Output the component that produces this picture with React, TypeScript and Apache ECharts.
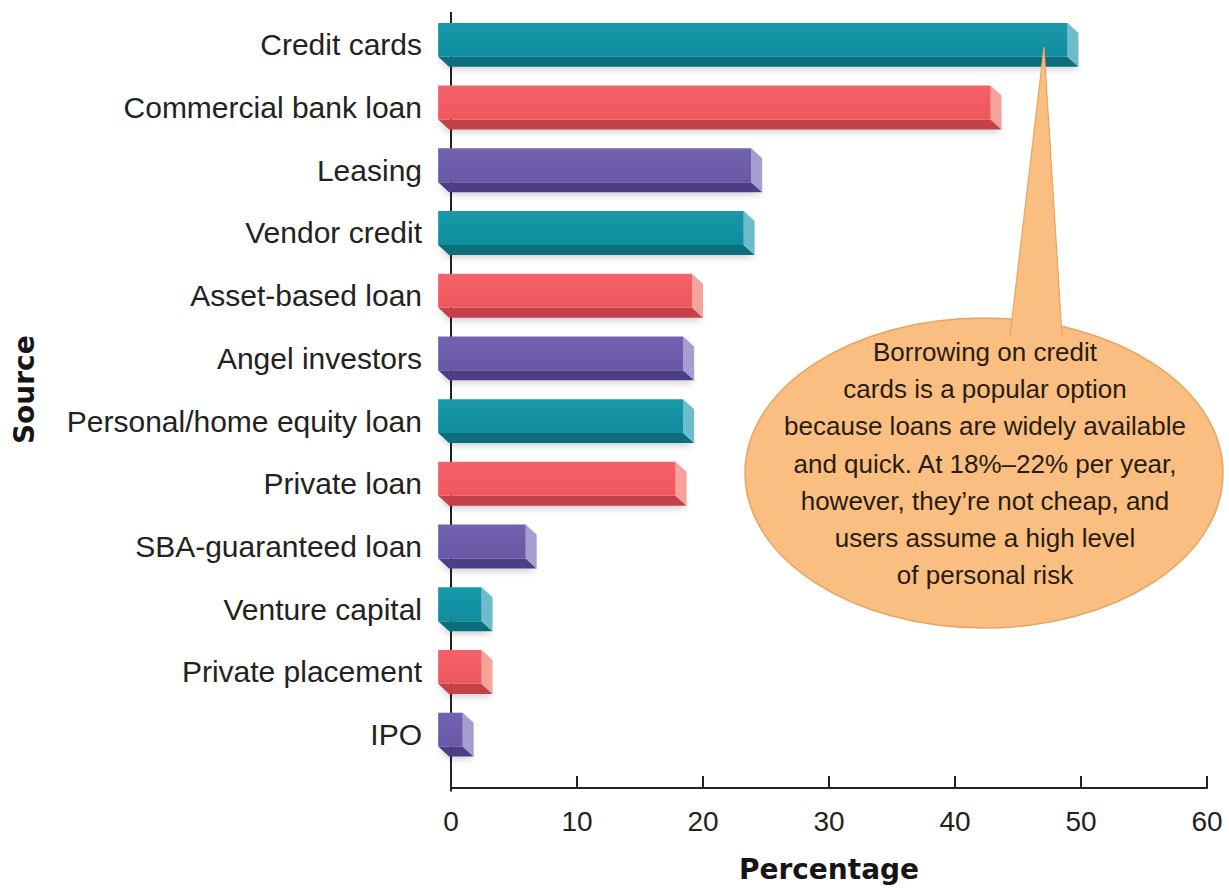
import React, { useEffect, useRef } from "react";
import * as echarts from "echarts";

const categories = [
  "Credit cards",
  "Commercial bank loan",
  "Leasing",
  "Vendor credit",
  "Asset-based loan",
  "Angel investors",
  "Personal/home equity loan",
  "Private loan",
  "SBA-guaranteed loan",
  "Venture capital",
  "Private placement",
  "IPO",
];

const values = [49.8, 43.7, 24.7, 24.1, 20.0, 19.3, 19.3, 18.7, 6.8, 3.3, 3.3, 1.8];

const xMin = 0;
const xMax = 60;
const xInterval = 10;

const calloutLines = [
  "Borrowing on credit",
  "cards is a popular option",
  "because loans are widely available",
  "and quick. At 18%\u201322% per year,",
  "however, they\u2019re not cheap, and",
  "users assume a high level",
  "of personal risk",
];

const palettes = [
  { top: "#1899aa", front: "#0f8c9d", bottom: "#0b6d7d", side: "#6cbccb" },
  { top: "#f4626a", front: "#ee575c", bottom: "#c63f48", side: "#f6a39c" },
  { top: "#7262b0", front: "#6858a6", bottom: "#4d3e86", side: "#a79dd0" },
];

const SANS = "'Liberation Sans', Arial, Helvetica, sans-serif";

export default function App() {
  const ref = useRef<HTMLDivElement>(null);

  useEffect(() => {
    const chart = echarts.init(ref.current as HTMLDivElement, null, { renderer: "svg" });
    const gridTop = 13.5;
    const gridHeight = 756;
    const gridLeft = 451;
    const gridWidth = 756;
    const xOffset = 22;

    chart.setOption({
      animation: false,
      backgroundColor: "#ffffff",
      grid: { left: gridLeft, top: gridTop, width: gridWidth, height: gridHeight, containLabel: false },
      xAxis: {
        type: "value",
        min: xMin,
        max: xMax,
        interval: xInterval,
        offset: xOffset,
        name: "Percentage",
        nameLocation: "middle",
        nameGap: 67,
        nameTextStyle: { fontFamily: "DejaVu Sans", fontWeight: "bold", fontSize: 28, color: "#151515" },
        axisLine: { show: true, lineStyle: { color: "#222", width: 2 } },
        axisTick: { show: true, inside: true, length: 12, lineStyle: { color: "#222", width: 2 } },
        axisLabel: { fontFamily: SANS, fontSize: 28, color: "#222", margin: 19 },
        splitLine: { show: false },
      },
      yAxis: {
        type: "category",
        data: categories,
        inverse: true,
        name: "Source",
        nameLocation: "middle",
        nameRotate: 90,
        nameGap: 413,
        nameTextStyle: { fontFamily: "DejaVu Sans", fontWeight: "bold", fontSize: 28, color: "#151515" },
        axisLine: { show: false },
        axisTick: { show: false },
        axisLabel: { fontFamily: SANS, fontSize: 30, color: "#222", margin: 29 },
      },
      series: [
        {
          type: "custom",
          z: 2,
          encode: { x: 0, y: 1 },
          data: values.map((v, i) => [v, i]),
          renderItem: (params: any, api: any) => {
            const cat = api.value(1);
            const v = api.value(0);
            const p0 = api.coord([0, cat]);
            const p1 = api.coord([v, cat]);
            const band = api.size([0, 1])[1];
            const yc = p0[1];
            const dx = band * 0.175;
            const dy = band * 0.16;
            const ft = yc - band * 0.35;
            const fb = yc + band * 0.19;
            const X0 = p0[0] - band * 0.03;
            const X1 = p1[0];
            const pal = palettes[params.dataIndex % 3];
            return {
              type: "group",
              children: [
                {
                  type: "polygon",
                  shape: { points: [[X0 - dx, fb], [X1 - dx, fb], [X1, fb + dy], [X0, fb + dy]] },
                  style: {
                    fill: pal.bottom,
                    shadowBlur: 6,
                    shadowOffsetY: 3,
                    shadowColor: "rgba(0,0,0,0.18)",
                  },
                },
                {
                  type: "polygon",
                  shape: { points: [[X1 - dx, ft], [X1, ft + dy], [X1, fb + dy], [X1 - dx, fb]] },
                  style: { fill: pal.side },
                },
                {
                  type: "rect",
                  shape: { x: X0 - dx, y: ft, width: X1 - X0, height: fb - ft },
                  style: {
                    fill: new echarts.graphic.LinearGradient(0, 0, 0, 1, [
                      { offset: 0, color: pal.top },
                      { offset: 1, color: pal.front },
                    ]),
                  },
                },
              ],
            };
          },
        },
      ],
    });

    const zeroX = chart.convertToPixel({ xAxisIndex: 0 }, 0) as number;
    const axisBottom = gridTop + gridHeight + xOffset;

    const cx = 984;
    const cy = 473;
    const rx = 239;
    const ry = 155;
    const tip = [1044, 47];
    const baseL = [1010, 336];
    const baseR = [1062, 336];

    chart.setOption({
      graphic: [
        {
          type: "line",
          z: 0,
          shape: { x1: zeroX, y1: 12, x2: zeroX, y2: axisBottom },
          style: { stroke: "#222", lineWidth: 2 },
        },
        {
          type: "ellipse",
          z: 100,
          shape: { cx, cy, rx, ry },
          style: { fill: "#f9be80", stroke: "#e8a462", lineWidth: 1.5 },
        },
        {
          type: "polygon",
          z: 101,
          shape: { points: [tip, baseR, baseL] },
          style: { fill: "#f9be80" },
        },
        {
          type: "polyline",
          z: 102,
          shape: { points: [baseL, tip, baseR] },
          style: { stroke: "#e8a462", lineWidth: 1.2, fill: null },
        },
        {
          type: "text",
          z: 103,
          x: 985,
          y: 463.5,
          style: {
            text: calloutLines.join("\n"),
            fontFamily: SANS,
            fontSize: 26,
            lineHeight: 37.2,
            fill: "#2a1c10",
            align: "center",
            verticalAlign: "middle",
          },
        },
      ],
    });

    return () => chart.dispose();
  }, []);

  return (
    <div
      ref={ref}
      style={{ position: "fixed", left: 0, top: 0, width: 1229, height: 888, background: "#fff" }}
    />
  );
}
